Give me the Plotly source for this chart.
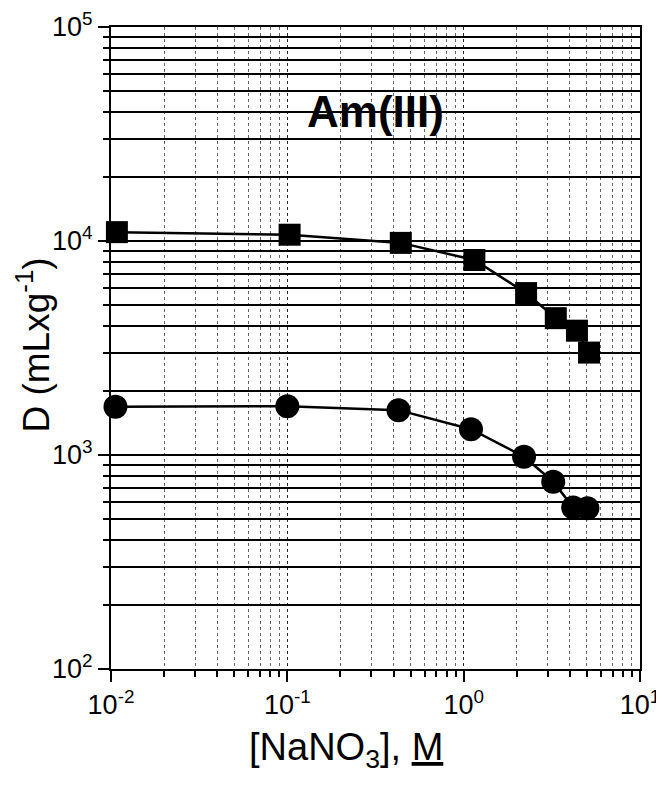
import plotly.graph_objects as go

# Data
sq_x = [0.0108, 0.103, 0.44, 1.15, 2.26, 3.33, 4.39, 5.14]
sq_y = [11000, 10700, 9800, 8150, 5710, 4360, 3810, 3010]
ci_x = [0.0106, 0.100, 0.427, 1.10, 2.20, 3.22, 4.18, 5.03]
ci_y = [1680, 1690, 1620, 1320, 982, 750, 568, 564]

x_tickvals = [0.01, 0.1, 1, 10]
x_ticktext = ["10<sup>-2</sup>", "10<sup>-1</sup>", "10<sup>0</sup>", "10<sup>1</sup>"]
y_tickvals = [100, 1000, 10000, 100000]
y_ticktext = ["10<sup>2</sup>", "10<sup>3</sup>", "10<sup>4</sup>", "10<sup>5</sup>"]

FONT = "Liberation Sans, Arial, sans-serif"

fig = go.Figure()
fig.add_trace(go.Scatter(
    x=sq_x, y=sq_y, mode="lines+markers",
    line=dict(color="black", width=2.5),
    marker=dict(symbol="square", size=22, color="black"),
    showlegend=False, cliponaxis=False))
fig.add_trace(go.Scatter(
    x=ci_x, y=ci_y, mode="lines+markers",
    line=dict(color="black", width=2.5),
    marker=dict(symbol="circle", size=24, color="black"),
    showlegend=False, cliponaxis=False))

fig.update_layout(
    width=656, height=778,
    margin=dict(l=103, r=24, t=19, b=117, autoexpand=False),
    paper_bgcolor="white", plot_bgcolor="white",
    font=dict(family=FONT, color="black", size=27),
    annotations=[
        dict(text="<b>Am(III)</b>", x=0.50, y=0.868, xref="paper", yref="paper",
             xanchor="center", yanchor="middle",
             showarrow=False, font=dict(size=44, family=FONT, color="black")),
        dict(text="D (mLxg<sup>-1</sup>)", x=-0.146, y=0.505, xref="paper", yref="paper",
             xanchor="center", yanchor="middle",
             textangle=-90, showarrow=False, font=dict(size=37, family=FONT, color="black")),
        dict(text="[NaNO<sub>3</sub>], <u>M</u>", x=0.444, y=-0.126, xref="paper", yref="paper",
             xanchor="center", yanchor="middle",
             showarrow=False, font=dict(size=38, family=FONT, color="black")),
    ],
)
fig.update_xaxes(
    type="log", range=[-2, 1], automargin=False,
    tickvals=x_tickvals, ticktext=x_ticktext,
    ticks="outside", ticklen=11, tickwidth=2, tickcolor="black",
    showline=True, linecolor="black", linewidth=2, mirror=True,
    showgrid=True, gridcolor="rgba(0,0,0,0.6)", gridwidth=1, griddash="dot",
    minor=dict(dtick="D1", ticks="outside", ticklen=6, tickwidth=1.5, tickcolor="black",
               showgrid=True, gridcolor="rgba(0,0,0,0.6)", gridwidth=1, griddash="dot"),
    tickfont=dict(size=27),
    zeroline=False,
)
fig.update_yaxes(
    type="log", range=[2, 5], automargin=False,
    tickvals=y_tickvals, ticktext=y_ticktext,
    ticks="outside", ticklen=11, tickwidth=2, tickcolor="black",
    showline=True, linecolor="black", linewidth=2, mirror=True,
    showgrid=True, gridcolor="black", gridwidth=1.6,
    minor=dict(dtick="D1", ticks="outside", ticklen=6, tickwidth=1.5, tickcolor="black",
               showgrid=True, gridcolor="black", gridwidth=1.6),
    tickfont=dict(size=27),
    zeroline=False,
)
fig.write_html("out.html")
